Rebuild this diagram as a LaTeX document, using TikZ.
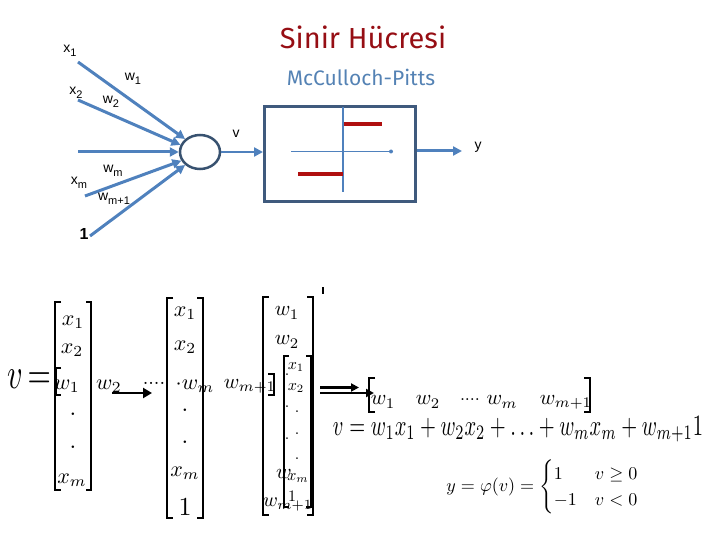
\documentclass[tikz,border=0pt]{standalone}
\usepackage{amsmath}
\usepackage{graphicx}
\usepackage[no-math]{fontspec}
\setsansfont{Liberation Sans}
\newfontfamily\titlefont{Fira Sans}
\usetikzlibrary{arrows.meta,shapes.geometric}
\definecolor{arrowblue}{RGB}{79,129,189}
\definecolor{darkblue}{RGB}{56,82,112}
\definecolor{boxblue}{RGB}{63,90,125}
\definecolor{titlered}{RGB}{150,14,20}
\definecolor{linered}{RGB}{176,16,16}
\definecolor{subblue}{RGB}{84,130,180}
\newcommand\FS[1]{\fontsize{#1}{#1}\selectfont}
\newcommand\SM[2]{\scalebox{#1}{$#2$}}
\newcommand\Lsub[2]{#1\raisebox{-4pt}{\FS{11}#2}}
\tikzset{
  inarrow/.style={draw=arrowblue, line width=3pt, -{Triangle[length=9pt,width=9pt]}},
  lab/.style={font=\sffamily\FS{14}, inner sep=0pt},
  mth/.style={inner sep=0pt},
  bkt/.style={line width=1.3pt},
  blk/.style={line width=2.8pt, -{Triangle[length=9pt,width=10pt]}},
}
\begin{document}
\begin{tikzpicture}[x=1pt,y=-1pt]
\useasboundingbox (0,0) rectangle (720,540);
% ---------- top: neuron ----------
\node[font=\titlefont\FS{29}, text=titlered, inner sep=0pt] (title) at (363,37) {Sinir Hücresi};
\node[font=\titlefont\FS{21}, text=subblue, inner sep=0pt] (sub) at (361,77) {McCulloch-Pitts};

\node[ellipse, draw=darkblue, line width=2.5pt, minimum width=40pt, minimum height=34pt, inner sep=0pt] (c) at (200,152) {};

\coordinate (i1) at (78,62);
\coordinate (i2) at (78,100);
\coordinate (i3) at (78,152);
\coordinate (i4) at (85,196);
\coordinate (i5) at (90,236);
\draw[inarrow] (i1) -- (c.139);
\draw[inarrow] (i2) -- (c.160);
\draw[inarrow] (i3) -- (c.180);
\draw[inarrow] (i4) -- (c.205);
\draw[inarrow] (i5) -- (c.221);

\node[lab] (lx1) at (70,51) {\Lsub{x}{1}};
\node[lab] (lx2) at (76,93) {\Lsub{x}{2}};
\node[lab] (lxm) at (79,183) {\Lsub{x}{m}};
\node[lab, font=\sffamily\bfseries\FS{16}] (lone) at (84,234) {1};
\node[lab] (lw1) at (133,79) {\Lsub{w}{1}};
\node[lab] (lw2) at (111,102) {\Lsub{w}{2}};
\node[lab] (lwm) at (113,171) {\Lsub{w}{m}};
\node[lab] (lwm1) at (114,199) {\Lsub{w}{m+1}};

\node[draw=boxblue, line width=3pt, minimum width=151pt, minimum height=95pt, inner sep=0pt] (box) at (340,154) {};
\draw[inarrow, line width=2.5pt] (c.east) -- (c.east -| box.west);
\node[lab] (lv) at (236,134) {v};
\coordinate (yout) at (462,151);
\draw[inarrow] (box.east |- yout) -- (yout);
\node[lab] (ly) at (478,147) {y};

\draw[arrowblue, line width=1.5pt] (343,107) -- (343,192);
\draw[arrowblue, line width=1.5pt] (291,151.5) -- (390,151.5);
\fill[arrowblue] (391,151.5) circle (2pt);
\draw[linered, line width=3.5pt] (344,124) -- (382,124);
\draw[linered, line width=3.5pt] (298,174) -- (343,174);

% ---------- bottom: formulas ----------
\draw[line width=2pt] (323,287) -- (323,294);

\node[mth] (veq) at (29,379) {\scalebox{3}[4.3]{$v\,{=}$}};

% column 1
\draw[bkt] (61,302) -- (55,302) -- (55,490) -- (61,490);
\draw[bkt] (86,302) -- (91,302) -- (91,490) -- (86,490);
\node[mth] (c1a) at (73,322) {\SM{2.2}{x_1}};
\node[mth] (c1b) at (72,350) {\SM{2.2}{x_2}};
\node[mth] (c1c) at (73,414) {\SM{2.4}{.}};
\node[mth] (c1d) at (73,447) {\SM{2.4}{.}};
\node[mth] (c1e) at (72,480) {\SM{2.2}{x_m}};

% row vector 1
\draw[line width=1.7pt] (61,368) -- (56,368) -- (56,395) -- (61,395);
\node[mth] (r1a) at (67,386) {\SM{2.2}{w_1}};
\node[mth] (r1b) at (109,386) {\SM{2.2}{w_2}};
\coordinate (a1s) at (112,393);
\coordinate (a1e) at (152,393);
\draw[blk] (a1s) -- (a1e);
\node[mth] (r1c) at (154,383) {\SM{2}{....}};
\node[mth] (r1d) at (195,386) {\SM{2.2}{{\cdot}w_m}};
\node[mth] (r1e) at (250,386) {\SM{2.1}{w_{m+1}}};
\draw[line width=1.7pt] (268,374) -- (274,374) -- (274,395) -- (268,395);

% column 2
\draw[bkt] (173,298) -- (167,298) -- (167,518) -- (173,518);
\draw[bkt] (197,298) -- (203,298) -- (203,518) -- (197,518);
\node[mth] (c2a) at (185,313) {\SM{2.2}{x_1}};
\node[mth] (c2b) at (185,347) {\SM{2.2}{x_2}};
\node[mth] (c2c) at (185,410) {\SM{2.4}{.}};
\node[mth] (c2d) at (185,442) {\SM{2.4}{.}};
\node[mth] (c2e) at (185,473) {\SM{2.2}{x_m}};
\node[mth] (c2f) at (185,507) {\SM{2.6}{1}};

% column 3
\draw[bkt] (269,297) -- (263,297) -- (263,515) -- (269,515);
\draw[bkt] (307,297) -- (313,297) -- (313,515) -- (307,515);
\node[mth] (c3a) at (287,313) {\SM{2.1}{w_1}};
\node[mth] (c3b) at (287,342) {\SM{2.1}{w_2}};
\node[mth] (c3c) at (284,474) {\SM{2.1}{w}};
\node[mth] (c3d) at (288,505) {\SM{2}{w_{m+1}}};

% column 4
\draw[bkt] (289,356) -- (284,356) -- (284,507) -- (289,507);
\draw[bkt] (306,356) -- (311,356) -- (311,507) -- (306,507);
\node[mth] (c4a) at (296,367) {\SM{1.6}{x_1}};
\node[mth] (c4b) at (296,388) {\SM{1.6}{x_2}};
\node[mth] (c4c) at (287,375) {\SM{1.6}{.}};
\node[mth] (c4d) at (287,407) {\SM{1.6}{.}};
\node[mth] (c4e) at (287,439) {\SM{1.6}{.}};
\node[mth] (c4f) at (297,412) {\SM{1.6}{.}};
\node[mth] (c4g) at (297,434) {\SM{1.6}{.}};
\node[mth] (c4h) at (297,459) {\SM{1.6}{.}};
\node[mth] (c4i) at (298,478) {\SM{1.6}{x_m}};
\node[mth] (c4j) at (292,496) {\SM{1.6}{1}};

% double arrow
\draw[line width=2.5pt, -{Triangle[length=8pt,width=8pt]}] (320,387.5) -- (359,387.5);
\draw[line width=2.5pt, -{Triangle[length=8pt,width=8pt]}] (320,393) -- (374,393);

% row vector 2
\draw[line width=1.7pt] (375,378) -- (369,378) -- (369,412) -- (375,412);
\draw[line width=1.7pt] (584,378) -- (590,378) -- (590,412) -- (584,412);
\node[mth] (r2a) at (383,402) {\SM{2.1}{w_1}};
\node[mth] (r2b) at (428,402) {\SM{2.1}{w_2}};
\node[mth] (r2c) at (470,400) {\SM{1.8}{....}};
\node[mth] (r2d) at (502,402) {\SM{2.1}{w_m}};
\node[mth] (r2e) at (566,402) {\SM{2.1}{w_{m+1}}};

% equations
\node[mth] (eq) at (518,429) {\resizebox{370pt}{19pt}{$v = w_1x_1 + w_2x_2 + \ldots + w_mx_m + w_{m+1}1$}};
\node[mth] (phi) at (543,487) {\resizebox{193pt}{!}{$y=\varphi(v)=\begin{cases}1 & v\ge 0\\ -1 & v<0\end{cases}$}};
\end{tikzpicture}
\end{document}
